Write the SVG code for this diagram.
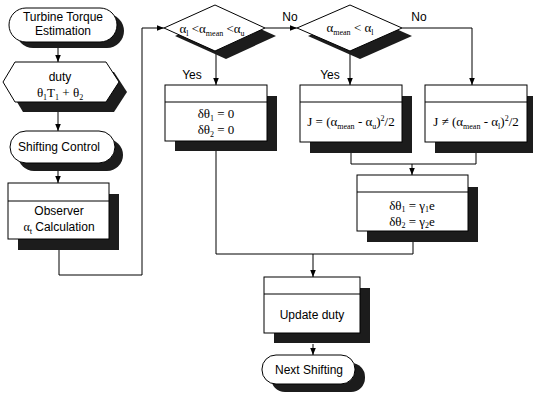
<svg xmlns="http://www.w3.org/2000/svg" width="533" height="404" viewBox="0 0 533 404">
<defs>
<marker id="arr" viewBox="0 0 10 10" refX="10" refY="5" markerWidth="7" markerHeight="7" orient="auto" markerUnits="userSpaceOnUse">
<path d="M0,1 L10,5 L0,9 Z" fill="#000"/>
</marker>
<style>
.sh{fill:#1c1c1c}
.nd{fill:#fff;stroke:#000;stroke-width:1}
.ln{fill:none;stroke:#000;stroke-width:1}
.cn{fill:none;stroke:#000;stroke-width:1;marker-end:url(#arr)}
.t{font-family:"Liberation Sans",Arial,sans-serif;font-size:12px;text-anchor:middle;fill:#000}
.m{font-family:"Liberation Serif","Times New Roman",serif;font-size:13px;text-anchor:middle;fill:#000}
.s{font-size:8px}
</style>
</defs>
<rect width="533" height="404" fill="#fff"/>

<g id="connectors">
<path class="cn" d="M58,46 V62"/>
<path class="cn" d="M58,112 V131"/>
<path class="cn" d="M58,168 V183"/>
<path class="cn" d="M59,250 V275 H142 V28 H164"/>
<path class="cn" d="M265,28 H297"/>
<path class="cn" d="M402,28 H472 V85"/>
<path class="cn" d="M216,51 V85"/>
<path class="cn" d="M350,51 V85"/>
<path class="ln" d="M216,151 V254 H413 V242"/>
<path class="ln" d="M351,153 V164 H476 V153"/>
<path class="cn" d="M412,164 V175"/>
<path class="cn" d="M313,254 V277"/>
<path class="cn" d="M313,344 V355"/>
<text class="t" x="290" y="21">No</text>
<text class="t" x="419" y="21">No</text>
<text class="t" x="192" y="79">Yes</text>
<text class="t" x="330" y="79">Yes</text>
</g>

<g id="turbine">
<rect class="sh" x="16" y="14" width="108" height="34" rx="17"/>
<rect class="nd" x="9" y="8" width="108" height="34" rx="17"/>
<text class="t" x="63" y="21">Turbine Torque</text>
<text class="t" x="63" y="35">Estimation</text>
</g>

<g id="duty">
<polygon class="sh" points="23,72 114,72 127,92 114,112 23,112 11,92"/>
<polygon class="nd" points="15,62 106,62 119,82 106,102 15,102 3,82"/>
<text class="t" x="60" y="81">duty</text>
<text class="m" x="60" y="97">θ<tspan class="s" dy="3">1</tspan><tspan dy="-3">T</tspan><tspan class="s" dy="3">1</tspan><tspan dy="-3"> + θ</tspan><tspan class="s" dy="3">2</tspan></text>
</g>

<g id="shifting">
<rect class="sh" x="18" y="139" width="105" height="32" rx="16"/>
<rect class="nd" x="10" y="131" width="105" height="32" rx="16"/>
<text class="t" x="59" y="151">Shifting Control</text>
</g>

<g id="observer">
<rect class="sh" x="18" y="194" width="101" height="56"/>
<rect class="nd" x="8" y="183" width="101" height="56"/>
<line class="ln" x1="8" y1="201" x2="109" y2="201"/>
<text class="t" x="59" y="215">Observer</text>
<text class="t" x="59" y="231"><tspan font-family="Liberation Serif, serif">α</tspan><tspan class="s" dy="3">t</tspan><tspan dy="-3"> Calculation</tspan></text>
</g>

<g id="cond1">
<polygon class="sh" points="175,36 226,13 276,36 226,59"/>
<polygon class="nd" points="164,28 215,5 265,28 215,51"/>
<text class="m" x="212" y="33">α<tspan class="s" dy="3">l</tspan><tspan dy="-3"> &lt;α</tspan><tspan class="s" dy="3">mean</tspan><tspan dy="-3"> &lt;α</tspan><tspan class="s" dy="3">u</tspan></text>
</g>

<g id="cond2">
<polygon class="sh" points="308,36 360,13 412,36 360,59"/>
<polygon class="nd" points="297,28 350,5 402,28 350,51"/>
<text class="m" x="350" y="32">α<tspan class="s" dy="3">mean</tspan><tspan dy="-3"> &lt; α</tspan><tspan class="s" dy="3">l</tspan></text>
</g>

<g id="zero">
<rect class="sh" x="175" y="96" width="102" height="55"/>
<rect class="nd" x="165" y="85" width="102" height="56"/>
<line class="ln" x1="165" y1="102" x2="267" y2="102"/>
<text class="m" x="216" y="118">δθ<tspan class="s" dy="3">1</tspan><tspan dy="-3"> = 0</tspan></text>
<text class="m" x="216" y="134">δθ<tspan class="s" dy="3">2</tspan><tspan dy="-3"> = 0</tspan></text>
</g>

<g id="costU">
<rect class="sh" x="310" y="96" width="102" height="57"/>
<rect class="nd" x="300" y="85" width="102" height="57"/>
<line class="ln" x1="300" y1="102" x2="402" y2="102"/>
<text class="m" x="351" y="126">J = (α<tspan class="s" dy="3">mean</tspan><tspan dy="-3"> - α</tspan><tspan class="s" dy="3">u</tspan><tspan dy="-3">)</tspan><tspan class="s" dy="-5">2</tspan><tspan dy="5">/2</tspan></text>
</g>

<g id="costL">
<rect class="sh" x="435" y="96" width="102" height="57"/>
<rect class="nd" x="425" y="85" width="102" height="57"/>
<line class="ln" x1="425" y1="102" x2="527" y2="102"/>
<text class="m" x="476" y="126">J ≠ (α<tspan class="s" dy="3">mean</tspan><tspan dy="-3"> - α</tspan><tspan class="s" dy="3">l</tspan><tspan dy="-3">)</tspan><tspan class="s" dy="-5">2</tspan><tspan dy="5">/2</tspan></text>
</g>

<g id="gamma">
<rect class="sh" x="367" y="187" width="111" height="55"/>
<rect class="nd" x="357" y="175" width="111" height="56"/>
<line class="ln" x1="357" y1="192" x2="468" y2="192"/>
<text class="m" x="412" y="210">δθ<tspan class="s" dy="2">1</tspan><tspan dy="-2"> = γ</tspan><tspan class="s" dy="2">1</tspan><tspan dy="-2">e</tspan></text>
<text class="m" x="412" y="226">δθ<tspan class="s" dy="2">2</tspan><tspan dy="-2"> = γ</tspan><tspan class="s" dy="2">2</tspan><tspan dy="-2">e</tspan></text>
</g>

<g id="update">
<rect class="sh" x="274" y="288" width="96" height="55"/>
<rect class="nd" x="264" y="277" width="96" height="56"/>
<line class="ln" x1="264" y1="294" x2="360" y2="294"/>
<text class="t" x="312" y="319">Update duty</text>
</g>

<g id="next">
<rect class="sh" x="271" y="363" width="94" height="29" rx="14"/>
<rect class="nd" x="262" y="355" width="93" height="29" rx="14"/>
<text class="t" x="309" y="374">Next Shifting</text>
</g>
</svg>
